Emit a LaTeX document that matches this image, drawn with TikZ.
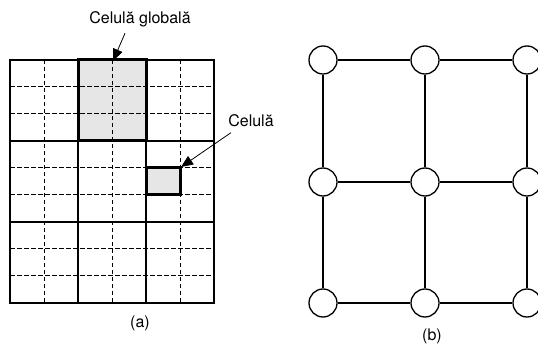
\documentclass[tikz,border=0pt]{standalone}
\usepackage{fontspec}
\setmainfont{TeX Gyre Heros}
\usetikzlibrary{arrows.meta,positioning}
\definecolor{cellfill}{HTML}{E6E6E6}
\tikzset{
  thinline/.style={line width=1.1pt},
  dashline/.style={line width=1pt,dash pattern=on 4.5pt off 2.5pt},
  boldbox/.style={line width=3pt},
  pointer/.style={-{Triangle[length=12pt,width=10pt]},line width=0.8pt},
  lbl/.style={font=\fontsize{16}{18}\selectfont},
  proc/.style={circle,draw,line width=1.3pt,minimum size=28pt,inner sep=0pt,fill=white}
}

\begin{document}
\begin{tikzpicture}[x=1pt,y=-1pt]
\useasboundingbox (0,0) rectangle (538,347);
% (a) grid with global cells
\fill[cellfill] (78,60) rectangle (146,141);
\fill[cellfill] (146,168) rectangle (180,195);
\foreach \x in {44,112,180}
  \draw[dashline] (\x,60) -- (\x,303);
\foreach \y in {87,114,168,195,249,276}
  \draw[dashline] (10,\y) -- (214,\y);
\foreach \x in {78,146}
  \draw[thinline] (\x,60) -- (\x,303);
\foreach \y in {141,222}
  \draw[thinline] (10,\y) -- (214,\y);
\draw[thinline] (10,60) rectangle (214,303);
\draw[boldbox] (78,60) rectangle (146,141);
\draw[boldbox] (146,168) rectangle (180,195);

\node[lbl] (glob) at (140,19) {Celulă globală};
\coordinate (globtip) at (113,61);
\draw[pointer] ([xshift=-15pt,yshift=-3pt]glob.south) -- (globtip);
\node[lbl] (cell) at (251,121) {Celulă};
\coordinate (celltip) at (181,167);
\draw[pointer] ([xshift=-20pt,yshift=-2pt]cell.south) -- (celltip);
\node[lbl] (capa) at (140,323) {(a)};

% (b) mesh of processors
\foreach \i/\x in {1/323,2/425,3/527}
  \foreach \j/\y in {1/60,2/182,3/303}
    \node[proc] (p\i\j) at (\x,\y) {};
\foreach \i in {1,2,3} {
  \draw[thinline] (p\i1) -- (p\i2) -- (p\i3);
  \draw[thinline] (p1\i) -- (p2\i) -- (p3\i);
}
\node[lbl] (capb) at (432,336) {(b)};
\end{tikzpicture}
\end{document}
